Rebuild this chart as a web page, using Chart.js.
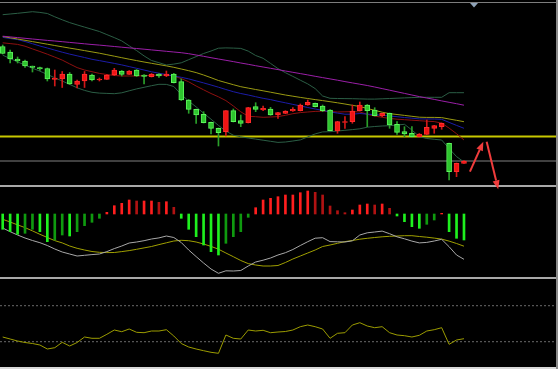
<!DOCTYPE html>
<html>
<head>
<meta charset="utf-8">
<script src="https://cdn.jsdelivr.net/npm/chart.js@4.4.0/dist/chart.umd.min.js"></script>
<style>
html, body { margin: 0; padding: 0; background: #000; }
#wrap { position: relative; width: 558px; height: 369px; background: #000; overflow: hidden; }
#wrap canvas { position: absolute; left: 0; }
.sep { position: absolute; left: 0; width: 558px; }
</style>
</head>
<body>
<div id="wrap">
  <canvas id="macd" style="top:187px" width="558" height="89"></canvas>
  <canvas id="osc" style="top:279px" width="558" height="87"></canvas>
  <div class="sep" style="top:2px;height:1px;background:#7d7d7d"></div>
  <div class="sep" style="top:185px;height:2px;background:#a8a8a8"></div>
  <div class="sep" style="top:277px;height:2px;background:#a8a8a8"></div>
  <div class="sep" style="top:367px;height:2px;background:#d8d8d8"></div>
  <canvas id="main" style="top:0" width="558" height="192"></canvas>
  <div style="position:absolute;left:556px;top:0;width:2px;height:369px;background:#8a8a8a"></div>
</div>
<script>
// daily candles (price units), 63 sessions
var open  = [153.5,148,141,139,134,132.5,131.5,120.5,121,126,115.7,119,125,120,120.7,125,129,125.7,130,125,123.3,126,124,126,118.3,100,90.7,85.7,77.7,71.7,68.3,89.3,79.3,77.3,93.3,90,91,85,86.7,89,89.3,95,96.7,94,90,69,77.5,78.3,89.3,95,90,84,86.7,75.7,68.3,66.7,63.3,65.7,71.7,73.3,56.7,28.3,36.7];
var close = [146.5,141,139,134,132.5,131,121,122,126,116,119,126,120,121,125,130,125.7,129,124,123.5,126,124,126,117.3,100,90.7,85,77.3,71.7,67.3,89.3,78.3,76.7,92.3,90.7,91.7,85,87.3,89,90.7,95,97.7,93.3,89.3,69.3,78.3,78.3,89,95,89.3,84.3,86.7,75,67.7,66,63.3,66,72.7,74.3,76.7,28.3,36.7,39];
var high  = [155,150,143,140,134,133,132,130,128.5,127.5,120,128.5,126,122,125.5,131.7,129.5,129.5,130.5,125.5,126.5,126.5,129,126.7,121,100.5,91,88.3,78,72,89.5,91,85,92.7,97.3,94,92.7,87.7,89.3,92.3,96,100,97,95,90.5,78.7,83.3,95,98,95.5,92.3,87,87,78.3,73.3,73.3,66.5,80,74.7,77,57,37,39.3];
var low   = [146,137,137,132.5,128,129.5,119,114,112.5,115.5,112,112.5,119,119,120.5,124.3,124,125.5,123.5,116,123,122.7,123.3,117,99.5,86.7,76.7,77,66,54,64,78,73.3,77,88.3,89.3,84.7,81.7,86.3,88.7,89,94.7,93,88.3,69,66.7,71.7,76.7,89,73.3,84,83.3,71.7,65.7,63.3,63,63,65.5,66.7,70.7,20,23.3,36.5];

// moving averages and bands
var maPurple = [163.8,163.1,162.4,161.7,161,160.3,159.6,159,158.3,157.6,156.9,156.2,155.5,154.9,154.2,153.5,152.8,152.1,151.5,150.8,150.1,149.4,148.7,148,147.3,146.3,145,143.7,142.3,141,139.7,138.4,137,135.7,134.3,133,131.7,130.4,129,127.7,126.4,125.1,123.7,122.4,121.1,119.8,118.4,117.1,115.8,114.5,113,111.4,109.8,108.2,106.6,105,103.4,102,100.6,99.1,97.7,96.3,94.8];
var maOlive = [163.5,162.2,161,159.7,158.4,157.1,155.8,154.5,153.2,151.9,150.7,149.4,148.1,146.8,145.3,143.8,142.3,140.8,139.4,138,136.7,135.4,134.1,132.7,131,129.3,127.4,125,122.3,119.5,117.4,115.3,113.3,111.9,110.5,109.2,107.8,106.4,105,103.8,102.6,101.5,100.4,99.4,98.3,97.2,96,94.7,93.5,91.5,89.7,87.8,86.4,85.5,84.6,83.7,82.8,82.6,82.6,82.4,81,79.7,78.3];
var maBlue = [162.6,161.5,160.4,158.5,156.3,154,152,149.9,147.8,145.9,144.2,142.5,140.7,139.4,138,136.6,135.1,133.4,131.7,130,128.2,126.8,125.4,124,122.7,121.1,119.1,117.1,115,112.8,110.5,108.3,106.5,105,103.3,101.7,100.4,98.7,97.2,95.6,94.1,92.5,91,89.6,88.1,86.9,85.8,85.8,86.5,85.9,85.3,84.7,84,83.3,82.5,81.8,81.1,81,81,80.7,77.6,74.6,71.7];
var maRed = [157.2,156.4,155.6,153.8,151.1,148.5,145.8,142.9,139.9,136.1,132.4,130,128.3,126.6,125.5,124.5,124,124,124,124.3,124.7,125,125,124,121.4,118.2,114,110.2,106.5,103.2,99.4,94,88.2,83.7,83.3,82.7,83,83.4,84.7,86.3,87.4,88,88.6,88.8,88.4,88,88.2,88.4,88,85.7,83.9,82.7,81.6,80.8,80.3,79.8,79.3,78.8,78.4,76.9,71.9,66.3,60];
var bbUpper = [185.3,186,186.7,187.5,188.3,187.6,186.5,183.2,180.2,177.4,175.1,172.9,170.7,168.5,165.4,162.4,159.1,154.2,149.4,144.1,139.5,137.3,135,135.9,137.2,140.3,143.4,146.5,149,151.8,152.1,151.9,151.6,148.9,144.5,141.7,136.6,131.4,127.3,123.6,119.8,116.1,111.4,104,101.7,101.5,101.4,101.3,101.1,100.9,100.9,101.2,101.5,101.8,102.1,102.4,102.7,102.7,102.7,102.7,107.3,107.3,107.3];
var bbLower = [144.8,141.5,138.1,134.9,131.8,128.8,125.6,122.2,119,115.6,112.2,109.6,107.7,106.9,106.6,106.3,107.2,109.2,111.1,112.7,114.3,115.7,115.6,113.5,105.5,98.9,93.1,86.8,80.8,74.6,68.9,64.8,63.2,62,60.9,59.8,58.7,57.6,58,59,60.1,63.1,66.1,68.1,68.3,69,69.7,70.4,71.2,72.8,73.5,74,74.3,75,75.7,70,63.4,61.5,60.7,60,51.5,43.4,38];
var priceLevels = [63.5, 39];

// MACD panel
var dif = [-14,-17.7,-21,-24,-26.5,-28.7,-31.5,-35,-38,-40,-42,-41.3,-40.6,-40,-37.6,-34.6,-32,-29,-28,-26.7,-25,-23.9,-22,-23.5,-28.5,-36,-42.6,-49,-55,-59.3,-56.8,-57,-56.5,-52,-48,-46.2,-44,-41,-38.7,-35.5,-31.5,-27.7,-24.2,-23.7,-27.6,-27.8,-28,-26.8,-21,-18.8,-18,-17.1,-19.7,-22.8,-24.8,-27.1,-28.9,-28.4,-27,-25.3,-32.7,-41,-45.3];
var dea = [-5.3,-8,-10.9,-13.6,-16.9,-20.3,-23.5,-26.6,-28.9,-32,-34.3,-36,-37.5,-38.3,-38.6,-38.5,-37.6,-36.6,-35.3,-33.9,-32.5,-30.6,-28.8,-27,-26.3,-26.7,-28,-30,-32.4,-35.2,-39,-42.7,-46.5,-49.6,-51,-52,-52,-51.5,-48.5,-45,-42,-39,-36,-32.5,-31,-29.3,-27.6,-26.5,-25.2,-24.3,-23.5,-22.8,-22.3,-22,-21.7,-21.7,-22.5,-23.2,-24.1,-25.1,-27.1,-29.5,-32.2];
var hist = [-15.3,-17.7,-20.3,-19.3,-15.3,-17.7,-27.7,-26,-21,-22,-17.7,-11.7,-8.3,-4.3,1.7,8.3,10.7,14,13,13,13,11.7,12.3,6.7,-4.3,-15.3,-22.7,-31,-37.7,-41,-29.3,-22.7,-17.7,-3.3,6.3,14,15.7,17.3,19,19,21.3,23,21.7,19,8,3.3,1.3,4,9,10,9,10,5.7,-2,-7.7,-12.7,-14.3,-10.3,-6,0.7,-17.7,-24.3,-26];

// oscillator panel
var osc = [29,27,25,23.5,22.5,21,17,18.3,23.7,20,23.5,29,27.7,27.7,31.7,36,34.3,37,33.7,33.3,35,35,36.3,30,22.5,19,17,15.3,13.7,12.7,31,27.7,27,36,35,35.7,33.3,34,34.5,36,39.3,41,39.3,37,27.7,32.7,33.3,41,43.3,40,38.3,39.3,33.3,31,30.3,29,30.7,35,36.3,38.3,21.7,26,27.3];
var oscLevels = [60.3, 24.3];

// hand drawn arrows: [index, price]
var arrows = [
  { from: [62.8, 28.3], to: [64.6, 58.3] },
  { from: [65.05, 58.3], to: [66.6, 10.7] }
];

var xMin = -0.363, xMax = 74.637;

function xy(arr) {
  return arr.map(function (v, i) { return { x: i, y: v }; });
}

function levelsPlugin(lines) {
  return {
    id: 'levels',
    beforeDatasetsDraw: function (chart) {
      var ctx = chart.ctx, a = chart.chartArea, y = chart.scales.y;
      lines.forEach(function (l) {
        var py = y.getPixelForValue(l.value);
        ctx.save();
        ctx.strokeStyle = l.color;
        ctx.lineWidth = l.width;
        ctx.setLineDash(l.dash || []);
        ctx.beginPath();
        ctx.moveTo(a.left, py);
        ctx.lineTo(a.right, py);
        ctx.stroke();
        ctx.restore();
      });
    }
  };
}

var arrowPlugin = {
  id: 'arrows',
  afterDraw: function (chart) {
    var ctx = chart.ctx, x = chart.scales.x, y = chart.scales.y;
    ctx.save();
    ctx.strokeStyle = '#f03c3c';
    ctx.fillStyle = '#f03c3c';
    ctx.lineWidth = 2;
    arrows.forEach(function (ar) {
      var x1 = x.getPixelForValue(ar.from[0]), y1 = y.getPixelForValue(ar.from[1]);
      var x2 = x.getPixelForValue(ar.to[0]), y2 = y.getPixelForValue(ar.to[1]);
      var ang = Math.atan2(y2 - y1, x2 - x1);
      var hl = 9, hw = 3.5;
      var bx = x2 - hl * Math.cos(ang), by = y2 - hl * Math.sin(ang);
      ctx.beginPath();
      ctx.moveTo(x1, y1);
      ctx.lineTo(bx, by);
      ctx.stroke();
      ctx.beginPath();
      ctx.moveTo(x2, y2);
      ctx.lineTo(bx + hw * Math.sin(ang), by - hw * Math.cos(ang));
      ctx.lineTo(bx - hw * Math.sin(ang), by + hw * Math.cos(ang));
      ctx.closePath();
      ctx.fill();
    });
    // little marker at the top of the price panel
    var mx = x.getPixelForValue(63.35), top = chart.chartArea.top + 3;
    ctx.fillStyle = '#8fa3b8';
    ctx.beginPath();
    ctx.moveTo(mx - 4, top);
    ctx.lineTo(mx + 4, top);
    ctx.lineTo(mx, top + 4.5);
    ctx.closePath();
    ctx.fill();
    ctx.restore();
  }
};

function opts(yMin, yMax, pad) {
  return {
    responsive: false,
    animation: false,
    events: [],
    layout: { padding: pad || 0, autoPadding: false },
    plugins: { legend: { display: false }, tooltip: { enabled: false } },
    scales: {
      x: { type: 'linear', min: xMin, max: xMax, display: false, offset: false },
      y: { type: 'linear', min: yMin, max: yMax, display: false }
    }
  };
}

function line(data, color, order) {
  return { type: 'line', data: xy(data), borderColor: color, borderWidth: 1, pointRadius: 0, tension: 0, order: order || 5 };
}

var isUp = open.map(function (o, i) { return close[i] > o; });

new Chart(document.getElementById('main'), {
  type: 'bar',
  data: {
    datasets: [
      {
        data: open.map(function (o, i) { return { x: i, y: [o, close[i]] }; }),
        backgroundColor: isUp.map(function (u) { return u ? '#f01414' : '#2ec42e'; }),
        borderColor: isUp.map(function (u) { return u ? '#ff2c2c' : '#5cf55c'; }),
        borderWidth: 1,
        borderSkipped: false,
        barThickness: 5,
        grouped: false,
        order: 1
      },
      {
        data: open.map(function (o, i) { return { x: i, y: [low[i], high[i]] }; }),
        backgroundColor: isUp.map(function (u) { return u ? '#d01818' : '#2aa02a'; }),
        borderWidth: 0,
        barThickness: 1,
        grouped: false,
        order: 2
      },
      line(maPurple, '#9b1fa8'),
      line(maOlive, '#9a9a12'),
      line(maBlue, '#1c1ca8'),
      line(maRed, '#8e1010'),
      line(bbUpper, '#2b5e45'),
      line(bbLower, '#2b5e45')
    ]
  },
  options: opts(15, 200, { bottom: 7 }),
  plugins: [levelsPlugin([
    { value: priceLevels[0], color: '#c8c800', width: 2 },
    { value: priceLevels[1], color: '#404040', width: 2 }
  ]), arrowPlugin]
});

var histColors = hist.map(function (v, i) {
  var p = i ? hist[i - 1] : 0;
  var grow = (p * v <= 0) || Math.abs(v) >= Math.abs(p);
  if (v >= 0) return grow ? '#ff1e1e' : '#b01212';
  return grow ? '#1ef01e' : '#0f9a0f';
});

new Chart(document.getElementById('macd'), {
  type: 'bar',
  data: {
    datasets: [
      line(dif, '#a8a8a8', 0),
      line(dea, '#a0a000', 0),
      {
        data: xy(hist),
        backgroundColor: histColors,
        borderWidth: 0,
        barThickness: 2,
        grouped: false,
        order: 1
      }
    ]
  },
  options: opts(-62, 27)
});

new Chart(document.getElementById('osc'), {
  type: 'line',
  data: { datasets: [line(osc, '#9c9c00', 0)] },
  options: opts(0, 87),
  plugins: [levelsPlugin([
    { value: oscLevels[0], color: '#6a6a6a', width: 1, dash: [2, 2] },
    { value: oscLevels[1], color: '#6a6a6a', width: 1, dash: [2, 2] }
  ])]
});
</script>
</body>
</html>
